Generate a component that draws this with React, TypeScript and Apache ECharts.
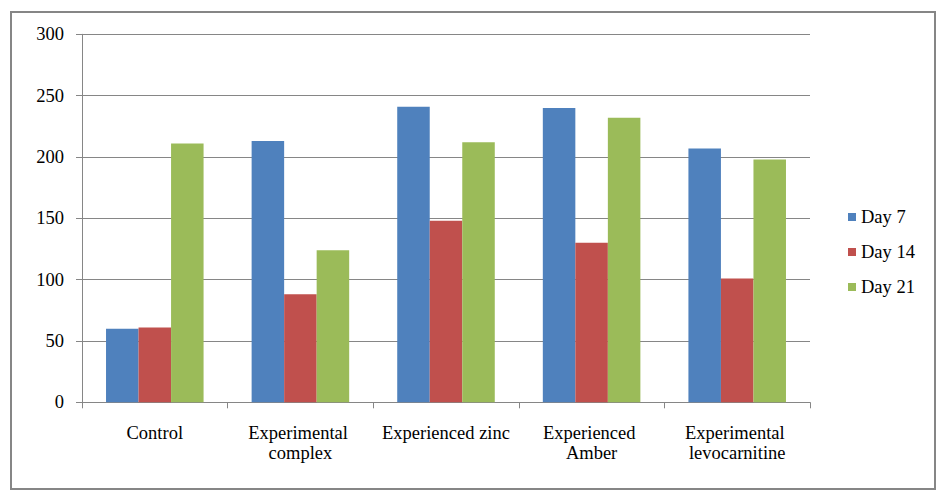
import React, { useEffect, useRef } from "react";
import * as echarts from "echarts";

const categories = [
  "Control",
  "Experimental complex",
  "Experienced zinc",
  "Experienced Amber",
  "Experimental levocarnitine",
];
const seriesNames = ["Day 7", "Day 14", "Day 21"];
const day7 = [60, 213, 241, 240, 207];
const day14 = [61, 88, 148, 130, 101];
const day21 = [211, 124, 212, 232, 198];
const yTicks = { min: 0, max: 300, interval: 50 };
const colors = ["#4F81BD", "#C0504D", "#9BBB59"];

export default function App() {
  const ref = useRef<HTMLDivElement>(null);
  useEffect(() => {
    if (!ref.current) return;
    const chart = echarts.init(ref.current, null, { renderer: "svg" });
    const font = "'Times New Roman', 'Liberation Serif', serif";
    const fs = 18.5;
    const gray = "#868686";
    const data = [day7, day14, day21];
    chart.setOption({
      animation: false,
      backgroundColor: "#ffffff",
      textStyle: { fontFamily: font },
      grid: { left: 82, top: 34.3, right: 137, bottom: 99.7, containLabel: false },
      graphic: [
        {
          type: "rect",
          shape: { x: 11, y: 12, width: 924, height: 477 },
          style: { fill: "none", stroke: gray, lineWidth: 2 },
          z: 100,
        },
      ],
      legend: {
        orient: "vertical",
        left: 843,
        top: 202,
        itemWidth: 8,
        itemHeight: 8,
        itemGap: 15,
        icon: "rect",
        textStyle: { fontFamily: font, fontSize: fs, color: "#000", lineHeight: 20 },
        data: seriesNames,
      },
      xAxis: {
        type: "category",
        data: categories,
        axisLine: { lineStyle: { color: gray, width: 1 } },
        axisTick: { show: true, length: 6, lineStyle: { color: gray } },
        axisLabel: {
          color: "#000",
          fontFamily: font,
          fontSize: fs,
          margin: 20,
          lineHeight: 20.5,
          width: 136,
          overflow: "break",
          interval: 0,
        },
      },
      yAxis: {
        type: "value",
        min: yTicks.min,
        max: yTicks.max,
        interval: yTicks.interval,
        axisLine: { show: true, lineStyle: { color: gray, width: 1 } },
        axisTick: { show: true, length: 6, lineStyle: { color: gray } },
        splitLine: { show: true, lineStyle: { color: gray, width: 1 } },
        axisLabel: { color: "#000", fontFamily: font, fontSize: fs, margin: 18 },
      },
      series: seriesNames.map((name, i) => ({
        name,
        type: "bar",
        data: data[i],
        barGap: "0%",
        barCategoryGap: "33%",
        itemStyle: { color: colors[i] },
      })),
    });
    return () => chart.dispose();
  }, []);
  return (
    <div
      ref={ref}
      style={{ position: "fixed", left: 0, top: 0, width: 947, height: 502 }}
    />
  );
}
